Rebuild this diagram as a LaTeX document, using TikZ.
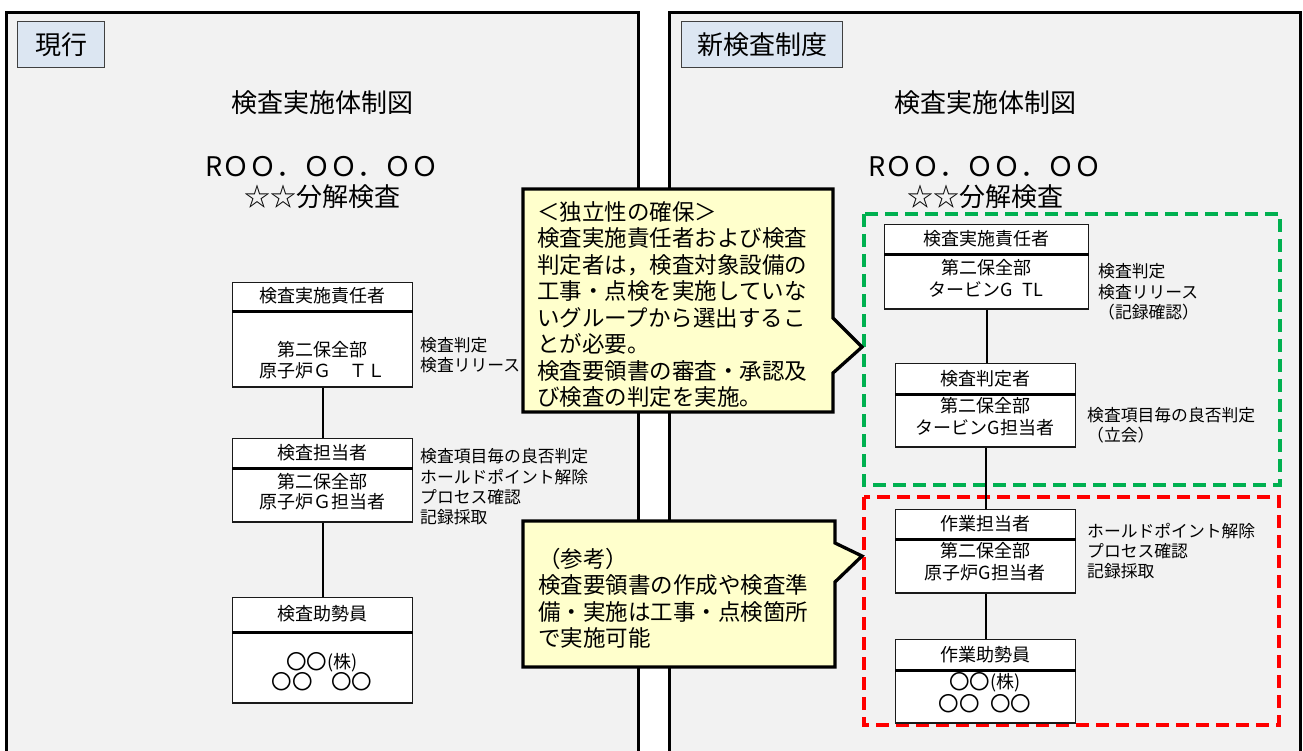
\documentclass[tikz,border=0pt]{standalone}
\usepackage{fontspec}
\usepackage{graphicx}
\usepackage{tikz}
\setmainfont{Noto Sans CJK JP}
\newcommand\fsz[2]{\fontsize{#1pt}{#2pt}\selectfont}
\newcommand\circJP{\raisebox{-0.9pt}{\scalebox{1.14}{〇}}}
\definecolor{panelgray}{HTML}{F2F2F2}
\definecolor{tagblue}{HTML}{DCE6F2}
\definecolor{noteyellow}{HTML}{FFFFCC}
\definecolor{dashgreen}{HTML}{00B050}
\definecolor{dashred}{HTML}{FF0000}
\definecolor{boxline}{HTML}{1A1A1A}
\begin{document}
\begin{tikzpicture}[x=1pt,y=-1pt,
  panel/.style={draw=black,line width=3pt,fill=panelgray},
  tagbox/.style={draw=black!75,line width=1.2pt,fill=tagblue,inner sep=0pt,anchor=north west,font=\fsz{26}{30}},
  titletext/.style={inner sep=0pt,font=\fsz{26}{30}},
  datetext/.style={inner sep=0pt,font=\fsz{27}{30}},
  hdrL/.style={draw=boxline,line width=1.3pt,fill=white,inner sep=0pt,anchor=north west,font=\fsz{18}{21},text height=1.2em,text depth=0pt},
  hdrR/.style={draw=boxline,line width=1.3pt,fill=white,inner sep=0pt,anchor=north west,font=\fsz{18}{21},text height=1.3em,text depth=0pt},
  bodybox/.style={draw=boxline,line width=1.3pt,fill=white,inner sep=0pt,anchor=north west},
  bodytextL/.style={inner sep=0pt,align=center,font=\fsz{18}{20.5}},
  bodytextR/.style={inner sep=0pt,align=center,font=\fsz{18}{22}},
  sepline/.style={draw=black,line width=2.7pt},
  conn/.style={draw=black,line width=2pt},
  lbl/.style={inner sep=0pt,anchor=west,align=left,font=\fsz{16.8}{20.3}},
  note/.style={draw=black,line width=3.3pt,fill=noteyellow,line join=miter},
  notetext/.style={inner sep=0pt,anchor=west,align=left,font=\fsz{22.5}{26.5}},
  dashbox/.style={line width=3.5pt,dash pattern=on 13pt off 7pt},
]
\useasboundingbox (0,0) rectangle (1303,751);
\clip (0,0) rectangle (1303,751);
\fill[white] (0,0) rectangle (1303,751);

% panels
\path[panel] (6,13) rectangle (638,770);
\path[panel] (669,13) rectangle (1300,770);

% tags
\node[tagbox,minimum width=87pt,minimum height=46pt] (tagL) at (17,21) {現行};
\node[tagbox,minimum width=161pt,minimum height=46pt] (tagR) at (681,21) {新検査制度};

% titles
\node[titletext] (titleL) at (322,103) {検査実施体制図};
\node[datetext] (dateL) at (322,167) {RＯＯ．ＯＯ．ＯＯ};
\node[titletext] (insL) at (322,197) {☆☆分解検査};
\node[titletext] (titleR) at (985,103) {検査実施体制図};
\node[datetext] (dateR) at (985,167) {RＯＯ．ＯＯ．ＯＯ};
\node[titletext] (insR) at (985,197) {☆☆分解検査};

% left boxes
\node[hdrL,minimum width=180pt,minimum height=28pt] (lh1) at (232,282) {検査実施責任者};
\node[bodybox,minimum width=180pt,minimum height=75pt] (lb1) at (lh1.south west) {};
\node[bodytextL] (lt1) at (322,360) {第二保全部\\原子炉Ｇ　ＴＬ};
\draw[sepline] (lh1.south west) -- (lh1.south east);

\node[hdrL,minimum width=180pt,minimum height=29pt] (lh2) at (232,438) {検査担当者};
\node[bodybox,minimum width=180pt,minimum height=53pt] (lb2) at (lh2.south west) {};
\node[bodytextL] (lt2) at (322,491.5) {第二保全部\\原子炉Ｇ担当者};
\draw[sepline] (lh2.south west) -- (lh2.south east);

\node[hdrL,minimum width=180pt,minimum height=34pt] (lh3) at (232,597) {検査助勢員};
\node[bodybox,minimum width=180pt,minimum height=70pt] (lb3) at (lh3.south west) {};
\node[bodytextL] (lt3) at (322,671.5) {\circJP\circJP(株)\\\circJP\circJP\hspace{1em}\circJP\circJP};
\draw[sepline] (lh3.south west) -- (lh3.south east);

\draw[conn] (lb1.south) -- (lh2.north);
\draw[conn] (lb2.south) -- (lh3.north);

\node[lbl] (ll1) at (420,355) {検査判定\\検査リリース};
\node[lbl] (ll2) at (420,487) {検査項目毎の良否判定\\ホールドポイント解除\\プロセス確認\\記録採取};

% right dashed groups
\draw[dashbox,draw=dashgreen] (864,214) rectangle (1280,485);
\draw[dashbox,draw=dashred] (864,497) rectangle (1279,725);

% right boxes
\node[hdrR,minimum width=204pt,minimum height=29pt] (rh1) at (884,224) {検査実施責任者};
\node[bodybox,minimum width=204pt,minimum height=54pt] (rb1) at (rh1.south west) {};
\node[bodytextR] (rt1) at (986,278) {第二保全部\\タービンG\hspace{0.55em}TL};
\draw[sepline] (rh1.south west) -- (rh1.south east);

\node[hdrR,minimum width=180pt,minimum height=30pt] (rh2) at (895,363) {検査判定者};
\node[bodybox,minimum width=180pt,minimum height=52pt] (rb2) at (rh2.south west) {};
\node[bodytextR] (rt2) at (985,416.5) {第二保全部\\タービンG担当者};
\draw[sepline] (rh2.south west) -- (rh2.south east);

\node[hdrR,minimum width=180pt,minimum height=29pt] (rh3) at (895,509) {作業担当者};
\node[bodybox,minimum width=180pt,minimum height=53pt] (rb3) at (rh3.south west) {};
\node[bodytextR] (rt3) at (985,561.5) {第二保全部\\原子炉G担当者};
\draw[sepline] (rh3.south west) -- (rh3.south east);

\node[hdrR,minimum width=180pt,minimum height=30pt] (rh4) at (895,639) {作業助勢員};
\node[bodybox,minimum width=180pt,minimum height=52pt] (rb4) at (rh4.south west) {};
\node[bodytextR] (rt4) at (985,693) {\circJP\circJP(株)\\\circJP\circJP\hspace{0.6em}\circJP\circJP};
\draw[sepline] (rh4.south west) -- (rh4.south east);

\draw[conn] (rb1.south) -- (rb1.south |- rh2.north);
\draw[conn] (rb2.south) -- (rh3.north);
\draw[conn] (rb3.south) -- (rh4.north);

\node[lbl] (rl1) at (1098,292) {検査判定\\検査リリース\\（記録確認）};
\node[lbl] (rl2) at (1087,425) {検査項目毎の良否判定\\（立会）};
\node[lbl] (rl3) at (1087,551) {ホールドポイント解除\\プロセス確認\\記録採取};

% callouts
\draw[note] (523,189) -- (833,189) -- (833,318) -- (862,347) -- (833,373) -- (833,412) -- (523,412) -- cycle;
\node[notetext] (n1) at (537,304.5) {＜独立性の確保＞\\検査実施責任者および検査\\判定者は，検査対象設備の\\工事・点検を実施していな\\いグループから選出するこ\\とが必要。\\検査要領書の審査・承認及\\び検査の判定を実施。};
\draw[note] (523,521) -- (835,521) -- (835,543) -- (862,556) -- (835,582) -- (835,667) -- (523,667) -- cycle;
\node[notetext] (n2) at (538,598.5) {（参考）\\検査要領書の作成や検査準\\備・実施は工事・点検箇所\\で実施可能};
\end{tikzpicture}
\end{document}
